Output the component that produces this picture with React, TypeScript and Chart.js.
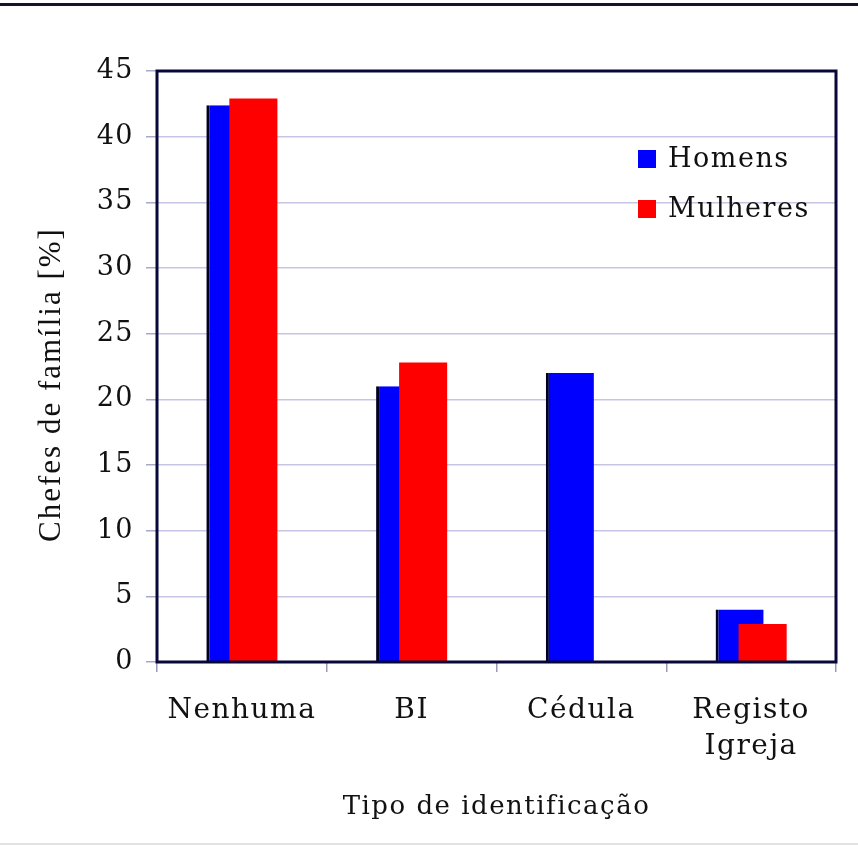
import { useEffect, useRef } from 'react';
import { Chart, registerables } from 'chart.js';

Chart.register(...registerables);

const categories: string[][] = [['Nenhuma'], ['BI'], ['Cédula'], ['Registo', 'Igreja']];
const seriesNames = ['Homens', 'Mulheres'];
const homens: (number | null)[] = [42.4, 21.0, 22.0, 4.0];
const mulheres: (number | null)[] = [42.9, 22.8, null, 2.9];
const yMin = 0;
const yMax = 45;
const yStep = 5;
const xTitle = 'Tipo de identificação';
const yTitle = 'Chefes de família [%]';

const FONT = "'DejaVu Serif', serif";
const NAVY = '#07073a';

const spacing = {
  id: 'spacing',
  beforeDraw(chart: any) {
    chart.ctx.letterSpacing = '1.5px';
  },
};

const frontSeries = {
  id: 'frontSeries',
  beforeDatasetDraw(_chart: any, args: any) {
    if (args.index === 1) return false;
    return true;
  },
  afterDatasetsDraw(chart: any) {
    const meta = chart.getDatasetMeta(1);
    if (meta && !meta.hidden) meta.controller.draw();
  },
};

const decorations = {
  id: 'decorations',
  afterDraw(chart: any) {
    const { ctx, chartArea, width, height } = chart;
    ctx.save();
    // page rules
    ctx.fillStyle = '#15152a';
    ctx.fillRect(0, 3, width, 3);
    ctx.fillStyle = '#e2e2e6';
    ctx.fillRect(0, height - 3, width, 2);
    // plot frame
    ctx.strokeStyle = NAVY;
    ctx.lineWidth = 3;
    ctx.strokeRect(chartArea.left, chartArea.top, chartArea.right - chartArea.left, chartArea.bottom - chartArea.top);
    // legend
    ctx.font = `27px ${FONT}`;
    ctx.textBaseline = 'middle';
    ctx.textAlign = 'left';
    chart.data.datasets.forEach((ds: any, i: number) => {
      const cy = chartArea.top + 88 + i * 50;
      const bx = chartArea.right - 198;
      ctx.fillStyle = ds.backgroundColor;
      ctx.fillRect(bx, cy - 9, 18, 18);
      ctx.fillStyle = '#111';
      ctx.fillText(ds.label, bx + 30, cy + 1);
    });
    // y title
    ctx.translate(52, (chartArea.top + chartArea.bottom) / 2 + 18);
    ctx.rotate(-Math.PI / 2);
    ctx.textAlign = 'center';
    ctx.textBaseline = 'middle';
    ctx.letterSpacing = '2px';
    ctx.font = `31px 'Liberation Serif', serif`;
    ctx.fillStyle = '#111';
    ctx.fillText(yTitle, 0, 0);
    ctx.restore();
  },
};

export default function App() {
  const ref = useRef<HTMLCanvasElement>(null);
  useEffect(() => {
    document.body.style.margin = '0';
    const chart = new Chart(ref.current!, {
      type: 'bar',
      data: {
        labels: categories,
        datasets: [
          {
            label: seriesNames[0],
            data: homens,
            backgroundColor: '#0000ff',
            borderColor: '#000022',
            borderWidth: { left: 3, top: 0, right: 0, bottom: 0 },
            borderSkipped: false,
          },
          {
            label: seriesNames[1],
            data: mulheres,
            backgroundColor: '#ff0000',
            borderWidth: 0,
          },
        ],
      },
      options: {
        animation: false,
        responsive: false,
        categoryPercentage: 0.271,
        barPercentage: 2.09,
        layout: { padding: { left: 0, right: 22, top: 71, bottom: 0 } },
        plugins: {
          legend: { display: false },
          tooltip: { enabled: false },
        },
        scales: {
          x: {
            afterFit(scale: any) {
              scale.height = 184;
            },
            border: { display: false },
            grid: {
              drawOnChartArea: false,
              drawTicks: true,
              tickLength: 10,
              tickColor: '#9a9ab8',
              lineWidth: 1.5,
              offset: true,
            },
            ticks: {
              color: '#111',
              padding: 21,
              font: { family: FONT, size: 28, lineHeight: 1.27 },
              maxRotation: 0,
            },
            title: {
              display: true,
              text: xTitle,
              color: '#111',
              font: { family: FONT, size: 26 },
              padding: { top: 0, bottom: 23 },
            },
          },
          y: {
            min: yMin,
            max: yMax,
            afterFit(scale: any) {
              scale.width = 157;
            },
            border: { display: false },
            grid: {
              color: '#c6c6e4',
              tickColor: '#a8a8c8',
              tickLength: 11,
              lineWidth: 1.5,
            },
            ticks: {
              stepSize: yStep,
              color: '#111',
              padding: 12,
              font: { family: FONT, size: 27 },
            },
          },
        },
      },
      plugins: [spacing, frontSeries, decorations],
    });
    return () => chart.destroy();
  }, []);
  return <canvas ref={ref} width={858} height={846} style={{ display: 'block' }} />;
}
